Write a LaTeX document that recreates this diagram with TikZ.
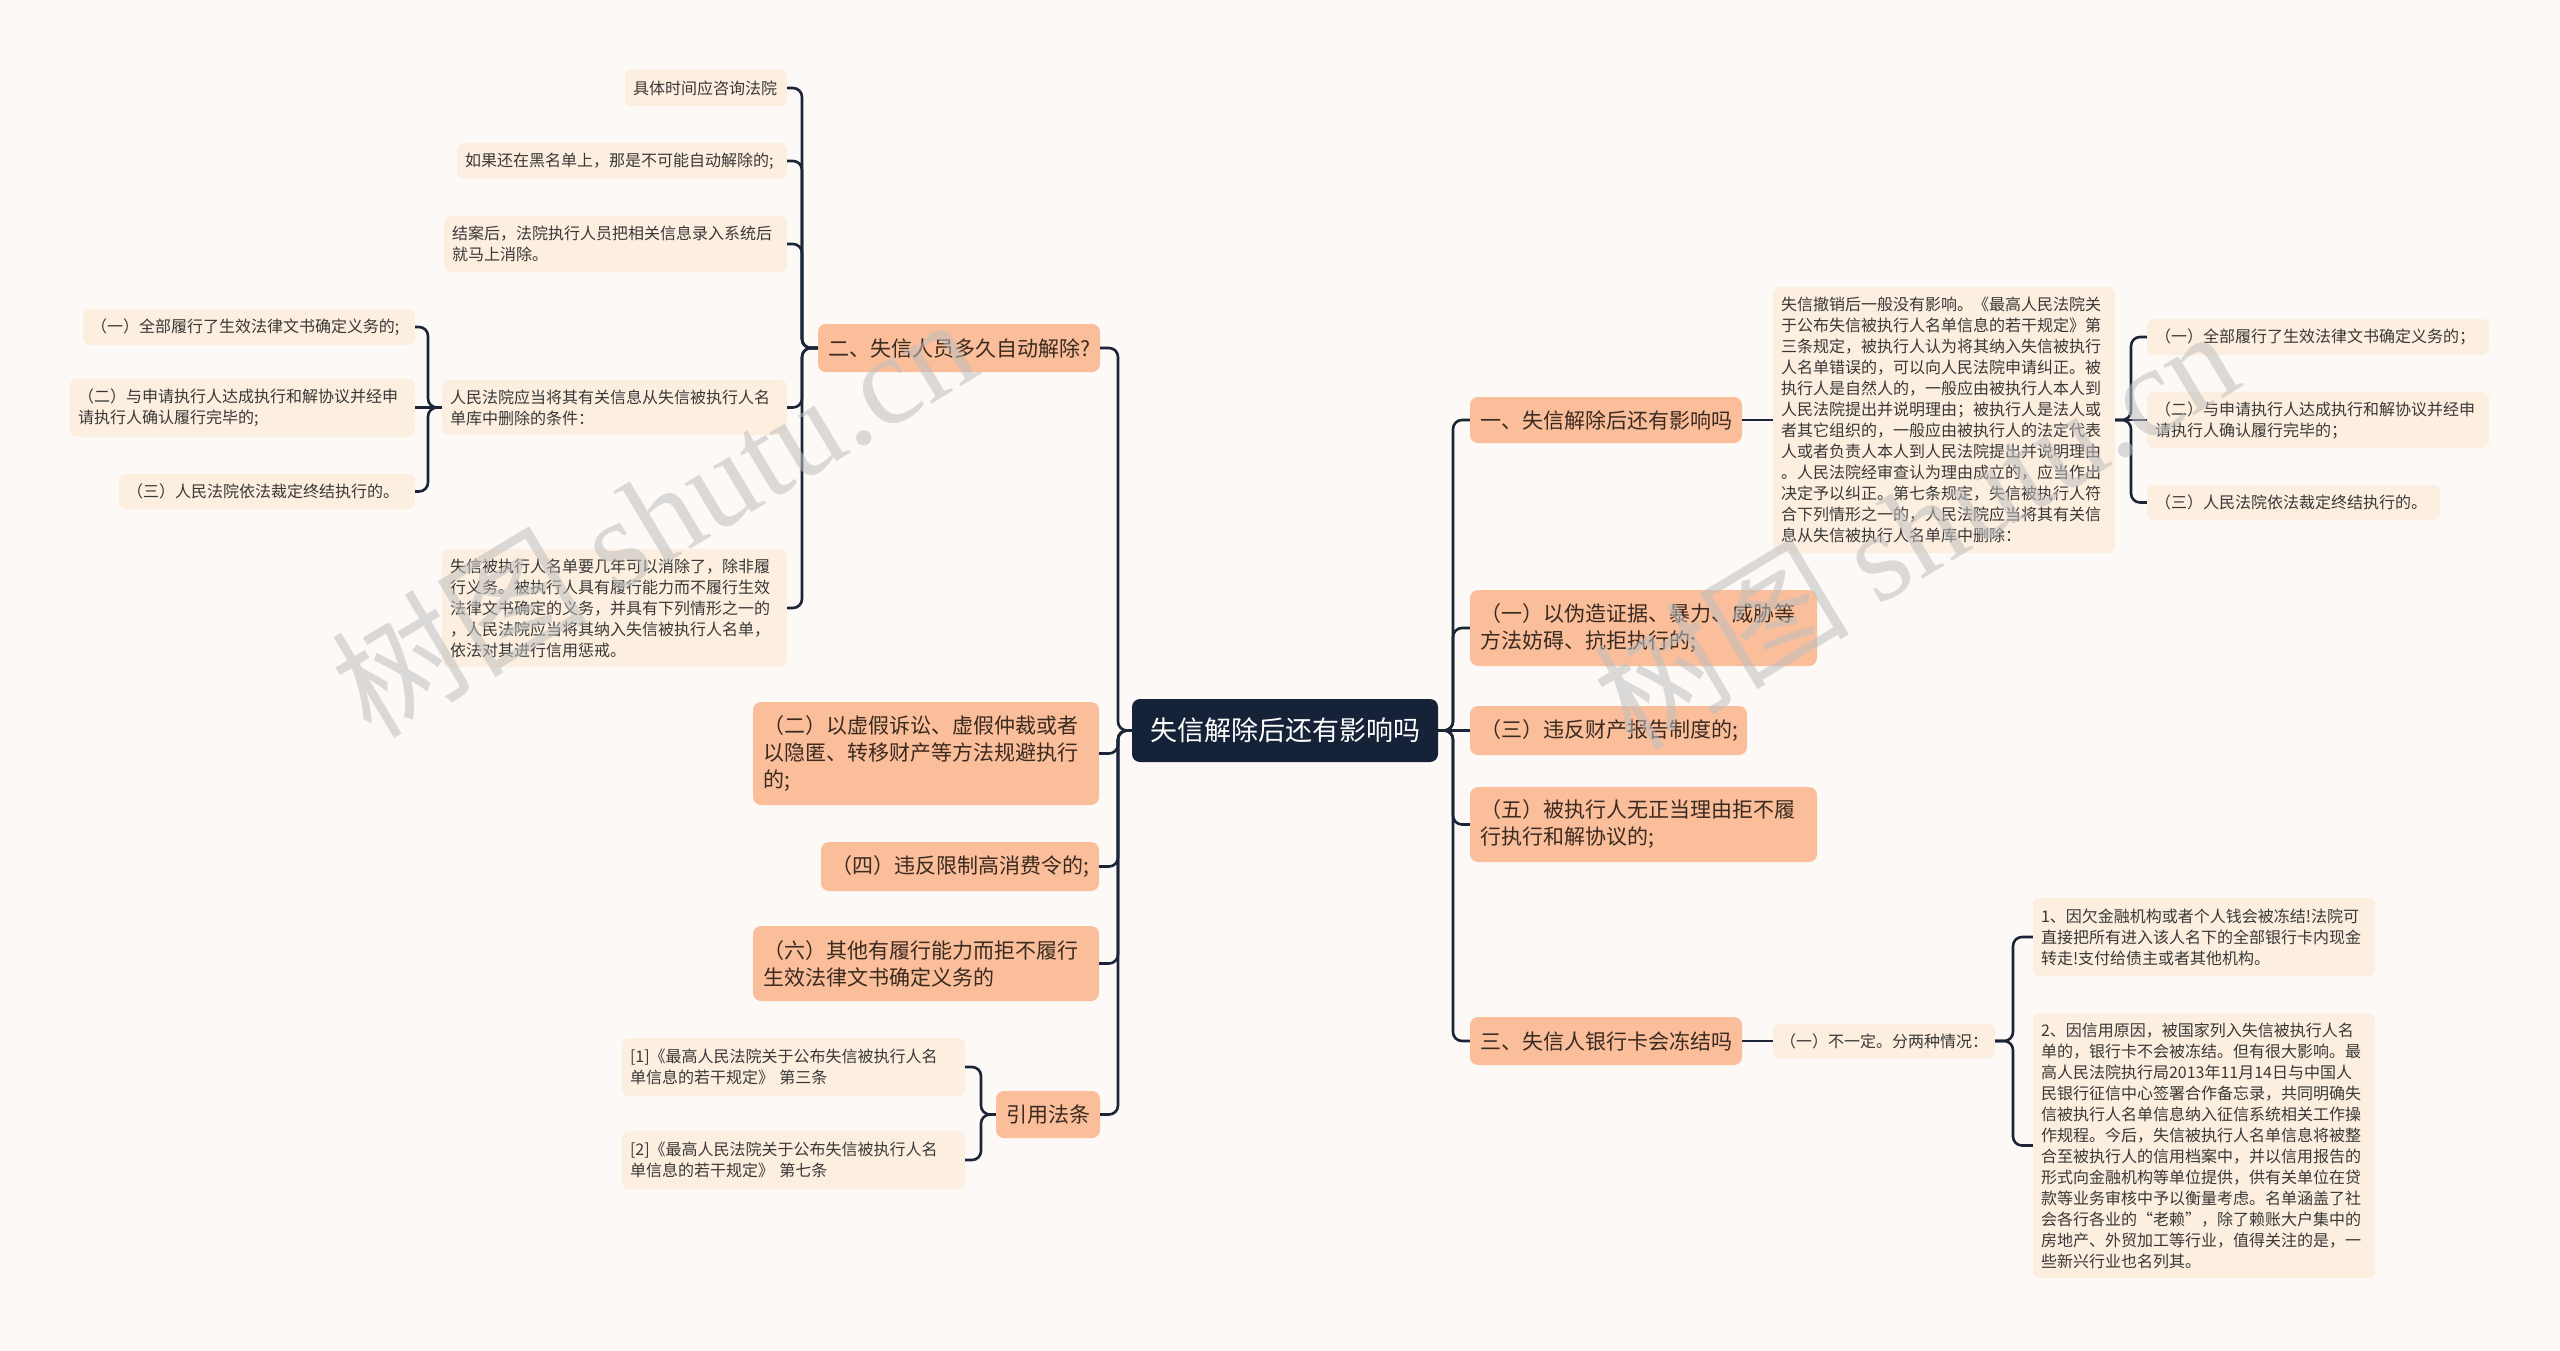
\documentclass[tikz,border=0pt]{standalone}
\usepackage{fontspec}
\setmainfont{Noto Sans CJK SC}
\newfontfamily\wmlatin{Liberation Serif}

\definecolor{grund}{HTML}{FCF9F7}
\definecolor{blass}{HTML}{FDEFDF}
\definecolor{lachs}{HTML}{FABE9B}
\definecolor{nacht}{HTML}{152238}
\definecolor{linie}{HTML}{1C2538}
\definecolor{schrift}{HTML}{383838}
\definecolor{astschrift}{HTML}{3A2A20}

\begin{document}
\begin{tikzpicture}[x=1pt, y=-1pt,
    wurzel/.style={fill=nacht, text=white, rounded corners=8pt, inner sep=0pt, font=\fontsize{27}{32}\selectfont},
    ast/.style={fill=lachs, text=astschrift, rounded corners=8pt, inner xsep=10pt, inner ysep=0pt, align=left, font=\fontsize{21}{27}\selectfont},
    blatt/.style={fill=blass, text=schrift, rounded corners=7pt, inner xsep=8pt, inner ysep=0pt, align=left, font=\fontsize{16}{21}\selectfont},
    verb/.style={draw=linie, line width=2.6pt, rounded corners=9pt},
    marke/.style={text=black!25, opacity=0.55, rotate=31, font=\fontsize{128}{128}\selectfont}
  ]
  \fill[grund] (0,0) rectangle (2560,1351);
  \useasboundingbox (0,0) rectangle (2560,1351);

  \node[wurzel, minimum width=306pt, minimum height=63pt] (w) at (1285,730.5) {失信解除后还有影响吗};

  % linke Seite
  \node[ast, text width=262pt, minimum height=48pt] (l2) at (959,348) {二、失信人员多久自动解除?};
  \node[ast, text width=326pt, minimum height=103pt] (lz) at (926,753.5) {（二）以虚假诉讼、虚假仲裁或者\\以隐匿、转移财产等方法规避执行\\的;};
  \node[ast, text width=258pt, minimum height=49pt] (lv) at (960,866.5) {（四）违反限制高消费令的;};
  \node[ast, text width=326pt, minimum height=75pt] (ls) at (926,963.5) {（六）其他有履行能力而拒不履行\\生效法律文书确定义务的};
  \node[ast, text width=84pt, minimum height=47pt] (lq) at (1048,1114.5) {引用法条};

  \node[blatt, text width=146pt, minimum height=36pt] (n1) at (706,88) {具体时间应咨询法院};
  \node[blatt, text width=314pt, minimum height=36pt] (n2) at (622,161) {如果还在黑名单上，那是不可能自动解除的;};
  \node[blatt, text width=327pt, minimum height=56pt] (n3) at (615.5,244) {结案后，法院执行人员把相关信息录入系统后\\就马上消除。};
  \node[blatt, text width=329pt, minimum height=55pt] (n4) at (614.5,407.5) {人民法院应当将其有关信息从失信被执行人名\\单库中删除的条件：};
  \node[blatt, text width=329pt, minimum height=118pt] (n5) at (614.5,608) {失信被执行人名单要几年可以消除了，除非履\\行义务。被执行人具有履行能力而不履行生效\\法律文书确定的义务，并具有下列情形之一的\\，人民法院应当将其纳入失信被执行人名单，\\依法对其进行信用惩戒。};

  \node[blatt, text width=316pt, minimum height=36pt] (c1) at (249,327) {（一）全部履行了生效法律文书确定义务的;};
  \node[blatt, text width=329pt, minimum height=58pt] (c2) at (242.5,407.5) {（二）与申请执行人达成执行和解协议并经申\\请执行人确认履行完毕的;};
  \node[blatt, text width=280pt, minimum height=35pt] (c3) at (267,491.5) {（三）人民法院依法裁定终结执行的。};

  \node[blatt, text width=327pt, minimum height=58pt] (q1) at (793.5,1067) {[1]《最高人民法院关于公布失信被执行人名\\单信息的若干规定》 第三条};
  \node[blatt, text width=327pt, minimum height=58pt] (q2) at (793.5,1160) {[2]《最高人民法院关于公布失信被执行人名\\单信息的若干规定》 第七条};

  % rechte Seite
  \node[ast, text width=252pt, minimum height=46pt] (r1) at (1606,420) {一、失信解除后还有影响吗};
  \node[ast, text width=327pt, minimum height=76pt] (rx1) at (1643.5,628) {（一）以伪造证据、暴力、威胁等\\方法妨碍、抗拒执行的;};
  \node[ast, text width=257pt, minimum height=49pt] (rx3) at (1608.5,730.5) {（三）违反财产报告制度的;};
  \node[ast, text width=327pt, minimum height=75pt] (rx5) at (1643.5,824.5) {（五）被执行人无正当理由拒不履\\行执行和解协议的;};
  \node[ast, text width=252pt, minimum height=48pt] (r3) at (1606,1041) {三、失信人银行卡会冻结吗};

  \node[blatt, text width=326pt, minimum height=266pt] (t1) at (1944,420) {失信撤销后一般没有影响。《最高人民法院关\\于公布失信被执行人名单信息的若干规定》第\\三条规定，被执行人认为将其纳入失信被执行\\人名单错误的，可以向人民法院申请纠正。被\\执行人是自然人的，一般应由被执行人本人到\\人民法院提出并说明理由；被执行人是法人或\\者其它组织的，一般应由被执行人的法定代表\\人或者负责人本人到人民法院提出并说明理由\\。人民法院经审查认为理由成立的，应当作出\\决定予以纠正。第七条规定，失信被执行人符\\合下列情形之一的，人民法院应当将其有关信\\息从失信被执行人名单库中删除：};
  \node[blatt, text width=326pt, minimum height=36pt] (k1) at (2318,337) {（一）全部履行了生效法律文书确定义务的；};
  \node[blatt, text width=326pt, minimum height=56pt] (k2) at (2318,420) {（二）与申请执行人达成执行和解协议并经申\\请执行人确认履行完毕的；};
  \node[blatt, text width=277pt, minimum height=35pt] (k3) at (2293.5,502.5) {（三）人民法院依法裁定终结执行的。};

  \node[blatt, text width=208pt, inner xsep=7pt, minimum height=34pt] (t3) at (1884,1041) {（一）不一定。分两种情况：};
  \node[blatt, text width=326pt, minimum height=78pt] (m1) at (2204,937) {1、因欠金融机构或者个人钱会被冻结!法院可\\直接把所有进入该人名下的全部银行卡内现金\\转走!支付给债主或者其他机构。};
  \node[blatt, text width=326pt, minimum height=265pt] (m2) at (2204,1145.5) {2、因信用原因，被国家列入失信被执行人名\\单的，银行卡不会被冻结。但有很大影响。最\\高人民法院执行局2013年11月14日与中国人\\民银行征信中心签署合作备忘录，共同明确失\\信被执行人名单信息纳入征信系统相关工作操\\作规程。今后，失信被执行人名单信息将被整\\合至被执行人的信用档案中，并以信用报告的\\形式向金融机构等单位提供，供有关单位在贷\\款等业务审核中予以衡量考虑。名单涵盖了社\\会各行各业的“老赖”，除了赖账大户集中的\\房地产、外贸加工等行业，值得关注的是，一\\些新兴行业也名列其。};

  % Verbindungen
  \coordinate (sl) at (1118,730.5);
  \coordinate (sr) at (1453,730.5);
  \coordinate (s2) at (802,348);
  \coordinate (s4) at (428,407.5);
  \coordinate (sq) at (981,1114.5);
  \coordinate (st1) at (2131,420);
  \coordinate (st3) at (2013,1041);

  \draw[verb] (l2.east) -| (sl) [sharp corners] -- (w.west);
  \draw[verb] (lz.east) -| (sl) [sharp corners] -- (w.west);
  \draw[verb] (lv.east) -| (sl) [sharp corners] -- (w.west);
  \draw[verb] (ls.east) -| (sl) [sharp corners] -- (w.west);
  \draw[verb] (lq.east) -| (sl) [sharp corners] -- (w.west);

  \draw[verb] (n1.east) -| (s2) [sharp corners] -- (l2.west);
  \draw[verb] (n2.east) -| (s2) [sharp corners] -- (l2.west);
  \draw[verb] (n3.east) -| (s2) [sharp corners] -- (l2.west);
  \draw[verb] (n4.east) -| (s2) [sharp corners] -- (l2.west);
  \draw[verb] (n5.east) -| (s2) [sharp corners] -- (l2.west);

  \draw[verb] (c1.east) -| (s4) [sharp corners] -- (n4.west);
  \draw[verb] (c2.east) -- (n4.west);
  \draw[verb] (c3.east) -| (s4) [sharp corners] -- (n4.west);

  \draw[verb] (q1.east) -| (sq) [sharp corners] -- (lq.west);
  \draw[verb] (q2.east) -| (sq) [sharp corners] -- (lq.west);

  \draw[verb] (r1.west) -| (sr) [sharp corners] -- (w.east);
  \draw[verb] (rx1.west) -| (sr) [sharp corners] -- (w.east);
  \draw[verb] (rx3.west) -- (w.east);
  \draw[verb] (rx5.west) -| (sr) [sharp corners] -- (w.east);
  \draw[verb] (r3.west) -| (sr) [sharp corners] -- (w.east);

  \draw[verb] (r1.east) -- (t1.west);
  \draw[verb] (k1.west) -| (st1) [sharp corners] -- (t1.east);
  \draw[verb] (k2.west) -- (t1.east);
  \draw[verb] (k3.west) -| (st1) [sharp corners] -- (t1.east);

  \draw[verb] (r3.east) -- (t3.west);
  \draw[verb] (m1.west) -| (st3) [sharp corners] -- (t3.east);
  \draw[verb] (m2.west) -| (st3) [sharp corners] -- (t3.east);

  % Wasserzeichen
  \node[marke] (wm1) at (653,515) {树图 {\wmlatin shutu.cn}};
  \node[marke] (wm2) at (1915,527) {树图 {\wmlatin shutu.cn}};
\end{tikzpicture}
\end{document}
